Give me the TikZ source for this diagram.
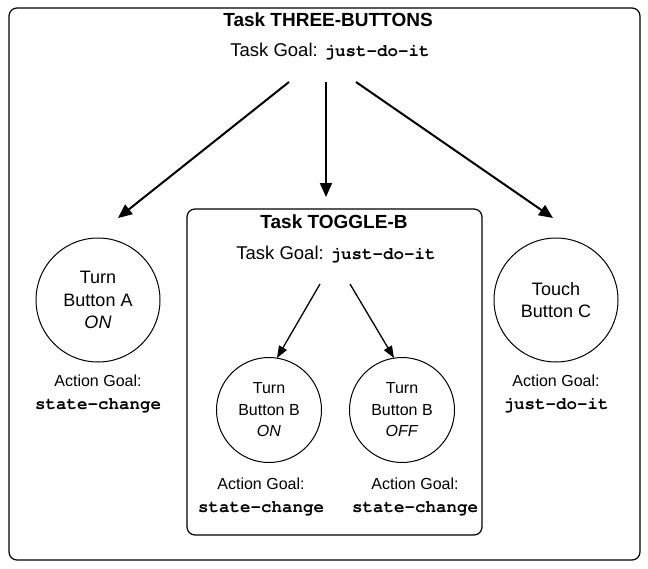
\documentclass[tikz,border=0pt]{standalone}
\usepackage{fontspec}
\setmainfont{Liberation Sans}
\setmonofont{TeX Gyre Cursor}
\usetikzlibrary{arrows.meta}
\tikzset{
  frame/.style={draw, line width=1.2pt, rounded corners=8pt, inner sep=0pt},
  bigact/.style={draw, circle, line width=1pt, minimum size=124pt, inner sep=0pt,
    align=center, font=\fontsize{18}{22.5}\selectfont},
  smallact/.style={draw, circle, line width=1pt, minimum size=105pt, inner sep=0pt,
    align=center, font=\fontsize{16}{21.5}\selectfont},
  tasktitle/.style={font=\fontsize{19}{22}\selectfont\bfseries, inner sep=0pt},
  goal/.style={font=\fontsize{18.5}{22}\selectfont, inner sep=0pt},
  actgoal/.style={align=center, inner sep=0pt, font=\fontsize{16}{23}\selectfont},
  bigarrow/.style={line width=2pt, -{Triangle[length=14pt,width=12pt]}},
  smallarrow/.style={line width=1.3pt, -{Triangle[length=12pt,width=9pt]}},
}
\newcommand{\code}[1]{{\ttfamily\bfseries\fontsize{17.5}{23}\selectfont #1}}
\begin{document}
\begin{tikzpicture}[x=1pt,y=-1pt]
  \useasboundingbox (0,0) rectangle (648,568);

  % outer task
  \node[frame, minimum width=631pt, minimum height=552pt] (outer) at (324.5,284) {};
  \node[tasktitle] (t1) at (328,20) {Task THREE-BUTTONS};
  \node[goal] (g1) at (330,52) {Task Goal: \code{just-do-it}};

  % actions of the outer task
  \node[bigact] (a) at (98,300) {Turn\\Button A\\\textit{ON}};
  \node[actgoal] (ga) at (98,394) {Action Goal:\\\code{state-change}};
  \node[bigact] (c) at (556,300) {Touch\\Button C};
  \node[actgoal] (gc) at (556,394) {Action Goal:\\\code{just-do-it}};

  % inner task
  \node[frame, minimum width=295pt, minimum height=326pt] (inner) at (334.5,372) {};
  \node[tasktitle] (t2) at (334,222) {Task TOGGLE-B};
  \node[goal] (g2) at (336,255) {Task Goal: \code{just-do-it}};

  \node[smallact] (bon) at (269,410) {Turn\\Button B\\\textit{ON}};
  \node[actgoal] (gbon) at (261,497) {Action Goal:\\\code{state-change}};
  \node[smallact] (boff) at (402,410) {Turn\\Button B\\\textit{OFF}};
  \node[actgoal] (gboff) at (415,497) {Action Goal:\\\code{state-change}};

  % arrow end points
  \coordinate (s1) at (289,82);
  \coordinate (s2) at (326,82);
  \coordinate (s3) at (356,82);
  \coordinate (e1) at (118,218);
  \coordinate (e2) at (326,197);
  \coordinate (e3) at (553,218);
  \coordinate (u1) at (320,284);
  \coordinate (u2) at (350,284);
  \coordinate (v1) at (277,358);
  \coordinate (v2) at (394,358);

  \draw[bigarrow] (s1) -- (e1);
  \draw[bigarrow] (s2) -- (e2);
  \draw[bigarrow] (s3) -- (e3);
  \draw[smallarrow] (u1) -- (v1);
  \draw[smallarrow] (u2) -- (v2);
\end{tikzpicture}
\end{document}
